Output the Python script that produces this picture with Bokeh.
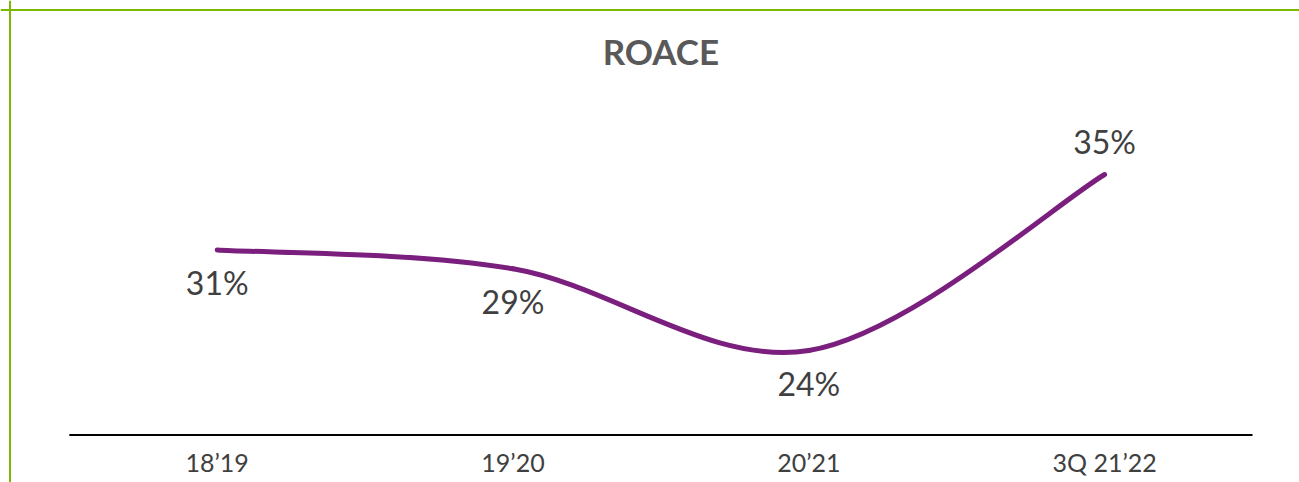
from bokeh.plotting import figure
from bokeh.models import Range1d, Span, ColumnDataSource
from bokeh.core.properties import value
from bokeh.embed import file_html
from bokeh.resources import INLINE

# ---- data ----
categories = ["18’19", "19’20", "20’21", "3Q 21’22"]
roace = [30.6, 29.4, 24.2, 35.4]
roace_labels = ["31%", "29%", "24%", "35%"]
title_text = "ROACE"

# ---- layout constants ----
W, H = 1299, 482
X0, X1 = -0.7326, 3.6589
Y0, Y1 = 15.795, 46.476
BASE = 18.82
PURPLE = "#7a1f7e"
GREEN = "#7cb800"
FONT = "Lato"

xs = list(range(len(categories)))

p = figure(width=W, height=H, output_backend="svg", toolbar_location=None,
           x_axis_location=None, y_axis_location=None,
           x_range=Range1d(X0, X1), y_range=Range1d(Y0, Y1),
           min_border=0, min_border_left=0, min_border_right=0,
           min_border_top=0, min_border_bottom=0)
p.outline_line_color = None
p.background_fill_color = "white"
p.border_fill_color = "white"
p.grid.visible = False

# green frame (top and left edges)
px_x = (X1 - X0) / W
px_y = (Y1 - Y0) / H
p.add_layout(Span(location=X0 + 9.5 * px_x, dimension="height",
                  line_color=GREEN, line_width=2))
p.add_layout(Span(location=Y1 - 9.5 * px_y, dimension="width",
                  line_color=GREEN, line_width=2))

# smooth line (Excel-like Bezier through the points)
n = len(roace)
def pt(i):
    i = max(0, min(n - 1, i))
    return xs[i], roace[i]
bx0, by0, bx1, by1, cx0, cy0, cx1, cy1 = [], [], [], [], [], [], [], []
for i in range(n - 1):
    xa, ya = pt(i)
    xb, yb = pt(i + 1)
    xp, yp = pt(i - 1)
    xn, yn = pt(i + 2)
    bx0.append(xa); by0.append(ya); bx1.append(xb); by1.append(yb)
    cx0.append(xa + (xb - xp) / 6); cy0.append(ya + (yb - yp) / 6)
    cx1.append(xb - (xn - xa) / 6); cy1.append(yb - (yn - ya) / 6)
p.bezier(x0=bx0, y0=by0, x1=bx1, y1=by1, cx0=cx0, cy0=cy0, cx1=cx1, cy1=cy1,
         line_color=PURPLE, line_width=5, line_cap="round")

# value labels
offsets = [33, 33, 33, -33]
src = ColumnDataSource(dict(x=xs, y=roace, t=roace_labels, off=offsets))
p.text(x="x", y="y", text="t", y_offset="off", source=src,
       text_align="center", text_baseline="middle",
       text_font=value(FONT), text_font_size="32px", text_color="#404040")

# baseline and category labels
p.segment(x0=[xs[0] - 0.5], y0=[BASE], x1=[xs[-1] + 0.5], y1=[BASE],
          line_color="black", line_width=2)
p.text(x=xs, y=[BASE] * n, text=categories, y_offset=27,
       text_align="center", text_baseline="middle",
       text_font=value(FONT), text_font_size="25px", text_color="#404040")

# title
p.text(x=[(xs[0] + xs[-1]) / 2], y=[43.29], text=[title_text],
       text_align="center", text_baseline="middle",
       text_font=value(FONT), text_font_style="bold",
       text_font_size="35px", text_color="#595959")

open("out.html", "w").write(file_html(p, INLINE))
